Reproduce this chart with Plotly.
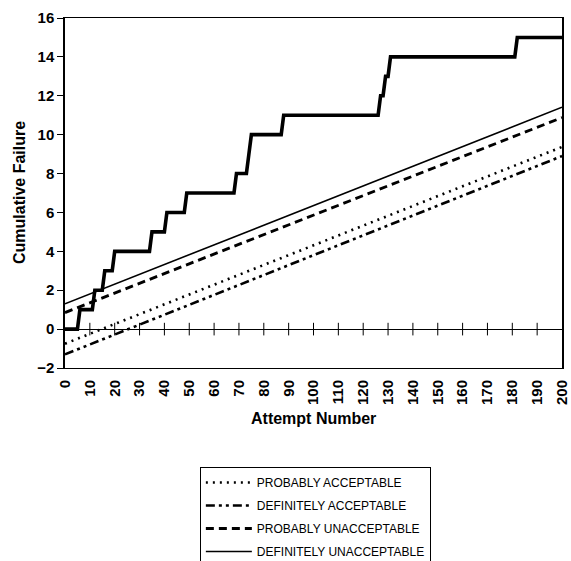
import numpy as np
import plotly.graph_objects as go

# ---- data ----
attempt_max = 200
failure_attempts = [6, 12, 16, 20, 35, 41, 49, 69, 74, 75, 88, 127, 129, 131, 182]

line_names = ["PROBABLY ACCEPTABLE", "DEFINITELY ACCEPTABLE",
              "PROBABLY UNACCEPTABLE", "DEFINITELY UNACCEPTABLE"]
line_x = [0, 200]
line_start = [-0.75, -1.3, 0.85, 1.3]    # value at attempt 0
line_end = [9.37, 8.9, 10.88, 11.41]     # value at attempt 200

x_ticks = list(range(0, 201, 10))
y_ticks = list(range(-2, 17, 2))
x_title = "Attempt Number"
y_title = "Cumulative Failure"

# ---- build cumulative failure series ----
attempts = np.arange(0, attempt_max + 1)
increments = np.zeros_like(attempts)
for a in failure_attempts:
    increments[a] += 1
cumulative = np.cumsum(increments)

FONT = "Liberation Sans, Arial, sans-serif"
styles = [
    dict(dash="2px,5px", width=2.6),
    dict(dash="9px,4px,3px,4px,3px,4px", width=2.6),
    dict(dash="8px,5px", width=2.8),
    dict(dash="solid", width=1.6),
]

fig = go.Figure()
for name, s, e, st in zip(line_names, line_start, line_end, styles):
    fig.add_trace(go.Scatter(
        x=line_x, y=[s, e], mode="lines", name=name,
        line=dict(color="black", width=st["width"], dash=st["dash"]),
        legendgroup=name,
    ))

fig.add_trace(go.Scatter(
    x=attempts, y=cumulative, mode="lines", showlegend=False,
    line=dict(color="black", width=3.6),
))

# cross tick marks on the zero line
fig.add_trace(go.Scatter(
    x=x_ticks[1:-1], y=[0] * (len(x_ticks) - 2), mode="markers", showlegend=False,
    marker=dict(symbol="line-ns", size=9, line=dict(color="black", width=1)),
    hoverinfo="skip", cliponaxis=False,
))

fig.update_layout(
    width=571, height=561,
    margin=dict(l=65, r=9, t=18, b=193, autoexpand=False),
    paper_bgcolor="white", plot_bgcolor="white",
    font=dict(family=FONT, color="black"),
    legend=dict(
        xref="container", yref="container",
        x=0.350, y=0.1676, xanchor="left", yanchor="top",
        bordercolor="black", borderwidth=1,
        font=dict(family=FONT, size=12, color="black"),
        itemwidth=46, tracegroupgap=4,
    ),
    showlegend=True,
    annotations=[
        dict(text=x_title, xref="paper", yref="paper", x=0.5, y=-0.1457,
             xanchor="center", yanchor="middle", showarrow=False,
             font=dict(family=FONT, size=16, weight="bold", color="black")),
        dict(text=y_title, xref="paper", yref="paper", x=-0.0925, y=0.5,
             xanchor="center", yanchor="middle", showarrow=False, textangle=-90,
             font=dict(family=FONT, size=16, weight="bold", color="black")),
    ],
)

fig.update_xaxes(
    range=[0, 200], tickvals=x_ticks, ticktext=[str(v) for v in x_ticks],
    tickangle=-90, showgrid=False, zeroline=False, automargin=False,
    showline=True, linecolor="black", linewidth=1, mirror=True,
    ticks="", ticklabelstandoff=5, ticklabeloverflow="allow",
    tickfont=dict(family=FONT, size=15, weight="bold"),
)
fig.update_yaxes(
    range=[-2, 16], tickvals=y_ticks, showgrid=False, automargin=False,
    zeroline=True, zerolinecolor="black", zerolinewidth=1,
    showline=True, linecolor="black", linewidth=1.5, mirror=True,
    ticks="outside", ticklen=6, tickcolor="black",
    tickfont=dict(family=FONT, size=15, weight="bold"),
)

fig.write_html("out.html", config={"displayModeBar": False},
               post_script="document.body.style.margin='0';")
